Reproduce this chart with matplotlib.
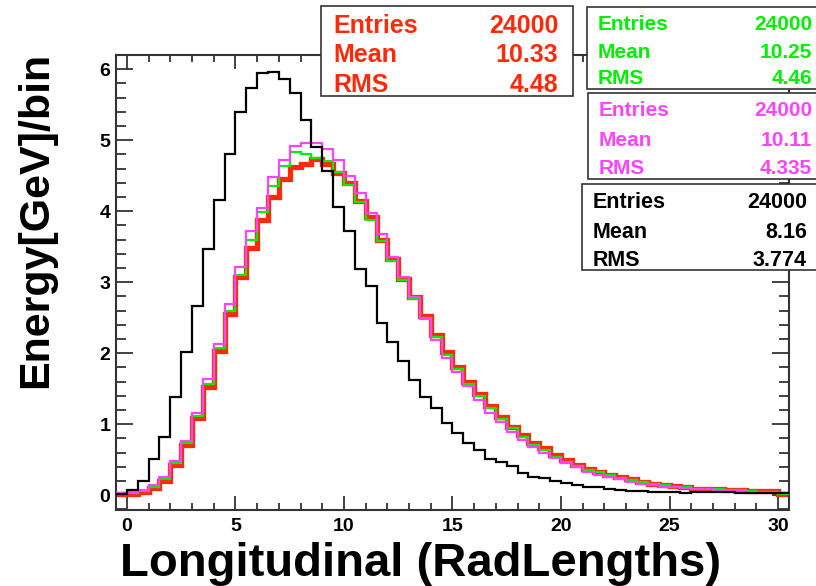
import numpy as np
import matplotlib
matplotlib.use("Agg")
import matplotlib.pyplot as plt
from matplotlib.patches import Rectangle
from matplotlib.ticker import MultipleLocator

plt.rcParams['font.family'] = ['Liberation Sans', 'DejaVu Sans']
plt.rcParams['font.weight'] = 'bold'

# bin edges: 62 bins of 0.5 RadLength, -0.5 .. 30.5
edges = np.arange(-0.5, 30.51, 0.5)

black_vals = [0.02, 0.07, 0.20, 0.51, 0.82, 1.38, 2.01, 2.67, 3.46, 4.16,
              4.80, 5.39, 5.73, 5.94, 5.96, 5.86, 5.66, 5.28, 4.90, 4.57,
              4.06, 3.72, 3.19, 2.95, 2.43, 2.16, 1.89, 1.62, 1.38, 1.22,
              1.02, 0.87, 0.73, 0.64, 0.51, 0.47, 0.41, 0.31, 0.26, 0.24,
              0.20, 0.17, 0.14, 0.12, 0.11, 0.08, 0.07, 0.06, 0.06, 0.05,
              0.05, 0.04, 0.03, 0.04, 0.04, 0.04, 0.04, 0.03, 0.03, 0.03,
              0.03, 0.03]

red_vals = [0.02, 0.02, 0.05, 0.10, 0.20, 0.42, 0.70, 1.08, 1.52, 2.03,
            2.55, 3.07, 3.48, 3.87, 4.20, 4.45, 4.62, 4.67, 4.74, 4.66,
            4.54, 4.40, 4.15, 3.92, 3.59, 3.33, 3.05, 2.79, 2.52, 2.26,
            2.02, 1.80, 1.60, 1.42, 1.25, 1.10, 0.96, 0.85, 0.73, 0.66,
            0.56, 0.49, 0.42, 0.37, 0.33, 0.29, 0.25, 0.22, 0.19, 0.16,
            0.14, 0.13, 0.11, 0.09, 0.08, 0.08, 0.07, 0.07, 0.06, 0.06,
            0.06, 0.01]

green_vals = [0.03, 0.03, 0.06, 0.12, 0.22, 0.45, 0.74, 1.12, 1.56, 2.07,
              2.60, 3.10, 3.59, 3.99, 4.35, 4.63, 4.83, 4.81, 4.75, 4.70,
              4.55, 4.37, 4.13, 3.88, 3.58, 3.30, 3.03, 2.76, 2.49, 2.23,
              1.98, 1.77, 1.57, 1.39, 1.22, 1.07, 0.94, 0.82, 0.71, 0.63,
              0.54, 0.47, 0.41, 0.36, 0.32, 0.28, 0.24, 0.21, 0.18, 0.16,
              0.14, 0.12, 0.11, 0.09, 0.08, 0.08, 0.07, 0.07, 0.06, 0.05,
              0.05, 0.02]

magenta_vals = [0.03, 0.04, 0.07, 0.14, 0.25, 0.48, 0.76, 1.16, 1.63, 2.13,
                2.69, 3.22, 3.72, 4.04, 4.48, 4.72, 4.92, 4.96, 4.96, 4.87,
                4.72, 4.50, 4.25, 3.97, 3.68, 3.36, 3.07, 2.79, 2.48, 2.18,
                1.93, 1.74, 1.53, 1.34, 1.15, 1.03, 0.89, 0.77, 0.68, 0.59,
                0.52, 0.45, 0.39, 0.33, 0.29, 0.25, 0.22, 0.19, 0.16, 0.14,
                0.12, 0.11, 0.10, 0.08, 0.08, 0.07, 0.06, 0.06, 0.05, 0.05,
                0.05, 0.03]

stat_names = ["Entries", "Mean", "RMS"]
red_stats = ["24000", "10.33", "4.48"]
green_stats = ["24000", "10.25", "4.46"]
magenta_stats = ["24000", "10.11", "4.335"]
black_stats = ["24000", "8.16", "3.774"]

RED = "#ff2a0a"
GREEN = "#00ee00"
MAGENTA = "#ff44ff"
BLACK = "#000000"

W, H = 816, 586
fig = plt.figure(figsize=(W / 100, H / 100), dpi=100)

def fx(px):
    return px / W

def fy(py):
    return 1 - py / H

ax = fig.add_axes([fx(116), fy(510), fx(789) - fx(116), fy(55) - fy(510)])

ax.stairs(red_vals, edges, baseline=None, color=RED, lw=3.8, zorder=2)
ax.stairs(green_vals, edges, baseline=None, color=GREEN, lw=1.6, zorder=3)
ax.stairs(magenta_vals, edges, baseline=None, color=MAGENTA, lw=1.6, zorder=4)
ax.stairs(black_vals, edges, baseline=None, color=BLACK, lw=1.6, zorder=5)

ax.set_xlim(-0.5, 30.5)
ax.set_ylim(-0.21, 6.2)
ax.xaxis.set_major_locator(MultipleLocator(5))
ax.xaxis.set_minor_locator(MultipleLocator(1))
ax.yaxis.set_major_locator(MultipleLocator(1))
ax.yaxis.set_minor_locator(MultipleLocator(0.2))
ax.tick_params(axis='both', which='both', direction='in', top=True, right=True,
               color='#222222', width=1.2, labelsize=14)
ax.tick_params(axis='x', which='major', length=10, pad=6)
ax.tick_params(axis='x', which='minor', length=5)
ax.tick_params(axis='y', which='major', length=12, pad=4)
ax.tick_params(axis='y', which='minor', length=7)
for lab in ax.get_xticklabels() + ax.get_yticklabels():
    lab.set_fontweight('bold')
for sp in ax.spines.values():
    sp.set_color('#333333')
    sp.set_linewidth(1.5)

fig.text(fx(120), fy(576), "Longitudinal (RadLengths)", fontsize=34,
         fontweight='bold', ha='left', va='baseline')
fig.text(fx(36), fy(220), "Energy[GeV]/bin", fontsize=31, fontweight='bold',
         rotation=90, ha='center', va='center')

def stats_box(x0, y0, x1, y1, xl, xr, baselines, values, color, size):
    fig.patches.append(Rectangle((fx(x0), fy(y1)), fx(x1) - fx(x0), fy(y0) - fy(y1),
                                 transform=fig.transFigure, facecolor='white',
                                 edgecolor='#333333', lw=1.2, zorder=10))
    for name, val, b in zip(stat_names, values, baselines):
        fig.text(fx(xl), fy(b), name, color=color, fontsize=size,
                 fontweight='bold', ha='left', va='baseline', zorder=11)
        fig.text(fx(xr), fy(b), val, color=color, fontsize=size,
                 fontweight='bold', ha='right', va='baseline', zorder=11)

stats_box(321, 6, 573, 96, 333, 558, [33, 62.5, 91.5], red_stats, RED, 18)
stats_box(587, 7, 818, 89, 598, 812, [30, 58, 84], green_stats, GREEN, 15)
stats_box(588, 93, 818, 179, 599, 812, [116.5, 145.5, 174], magenta_stats, MAGENTA, 15)
stats_box(582, 184, 818, 270, 593, 807, [208, 237.5, 265.5], black_stats, BLACK, 15.5)

fig.savefig("out.png", dpi=100)
